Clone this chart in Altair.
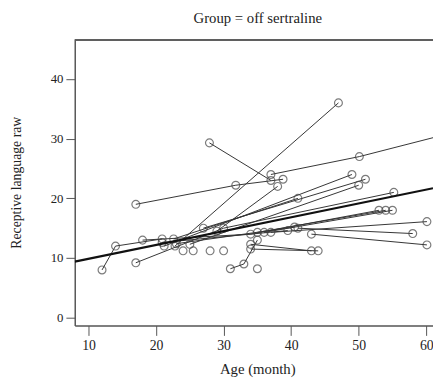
import altair as alt
import pandas as pd

# Individual trajectories (subject id, age in months, receptive language raw score)
subject = [1, 1, 1,
           2, 2, 2,
           3, 3,
           4, 4,
           5, 5, 5,
           7, 7,
           8, 8,
           9, 9,
           10, 10,
           11, 11,
           12, 12, 12,
           13, 13, 13,
           14, 14,
           15, 15,
           16, 16,
           17, 17,
           18, 18,
           19, 19,
           20, 20,
           21, 21, 21,
           22, 23, 24, 25, 26,
           27, 27,
           28, 28]
age = [12, 14, 20.9,
       17, 31.8, 38.8,
       27.9, 37,
       22.8, 47,
       37, 50.1, 62.5,
       21.2, 49,
       22.6, 41,
       25, 50,
       27, 51,
       29, 38,
       17, 30, 55.2,
       18, 34, 53,
       35, 54,
       36, 55,
       37, 60.1,
       41, 58,
       43, 60.1,
       34, 43,
       34, 44,
       31, 33, 35,
       35, 24, 25.5, 28, 30,
       20.9, 39.5,
       23, 40.5]
raw = [8, 12, 13.2,
       19, 22.2, 23.2,
       29.3, 23,
       12, 36,
       24, 27, 30.6,
       12, 24,
       13.2, 20,
       12.3, 22.2,
       15, 23.2,
       14.5, 22,
       9.2, 15, 21,
       13, 14, 18,
       14.3, 18,
       14.3, 18,
       14.3, 16.1,
       15, 14.1,
       14, 12.2,
       12.3, 11.2,
       11.5, 11.2,
       8.2, 9, 13,
       8.2, 11.2, 11.2, 11.2, 11.2,
       12.6, 14.6,
       12.4, 15.2]

# Overall fitted line
fit_age = [7.96, 61.0]
fit_raw = [9.4, 21.7]

df = pd.DataFrame({"subject": subject, "age": age, "raw": raw})
fit = pd.DataFrame({"age": fit_age, "raw": fit_raw})

FONT = "Liberation Serif"
FRAME = "#555555"
TXT = "#222222"

xscale = alt.Scale(domain=[7.96, 61.0], nice=False, zero=False)
yscale = alt.Scale(domain=[-1.32, 46.55], nice=False, zero=False)

xaxis = alt.Axis(orient="bottom", values=[10, 20, 30, 40, 50, 60], title="Age (month)", grid=False,
                 domain=True, domainColor=FRAME, domainWidth=1.5,
                 ticks=True, tickSize=10, tickColor=FRAME, tickWidth=1, labelPadding=3,
                 labelFont=FONT, labelFontSize=14, labelColor=TXT,
                 titleFont=FONT, titleFontSize=15, titleFontWeight="normal", titleColor=TXT,
                 titleX=186, titleY=44, titleBaseline="middle", titleAlign="center")
yaxis = alt.Axis(orient="left", values=[0, 10, 20, 30, 40], title="Receptive language raw", grid=False,
                 domain=True, domainColor=FRAME, domainWidth=1.5,
                 ticks=True, tickSize=9, tickColor=FRAME, tickWidth=1, labelPadding=3,
                 labelFont=FONT, labelFontSize=13, labelColor=TXT,
                 titleFont=FONT, titleFontSize=14, titleFontWeight="normal", titleColor=TXT,
                 titleX=-59, titleY=145, titleBaseline="middle", titleAlign="center", titleAngle=-90)

X = alt.X("age:Q", scale=xscale, axis=xaxis)
Y = alt.Y("raw:Q", scale=yscale, axis=yaxis)

lines = alt.Chart(df).mark_line(color="#333333", strokeWidth=1, clip=True).encode(
    x=X, y=Y, detail="subject:N", order="age:Q",
)
points = alt.Chart(df).mark_point(shape="circle", filled=False, color="#444444",
                                  size=64, strokeWidth=1.2, clip=True).encode(x=X, y=Y)
fitline = alt.Chart(fit).mark_line(color="#111111", strokeWidth=2.2, clip=True).encode(x=X, y=Y)

# top edge of the plot frame (the right edge falls outside the picture)
topframe = alt.Chart(fit).mark_rule(color=FRAME, strokeWidth=1.5).encode(y=alt.value(0))

chart = alt.layer(lines, points, fitline, topframe).properties(
    width=365, height=291,
    autosize=alt.AutoSizeParams(type="none"),
    padding={"left": 68, "top": 29, "right": 0, "bottom": 56},
    title=alt.TitleParams("Group = off sertraline", font=FONT, fontSize=15,
                          fontWeight="normal", color=TXT, anchor="middle",
                          dx=4, offset=14),
    background="white",
).configure_view(stroke=None)

chart.save("out.html", embed_options={"renderer": "svg", "actions": False})
